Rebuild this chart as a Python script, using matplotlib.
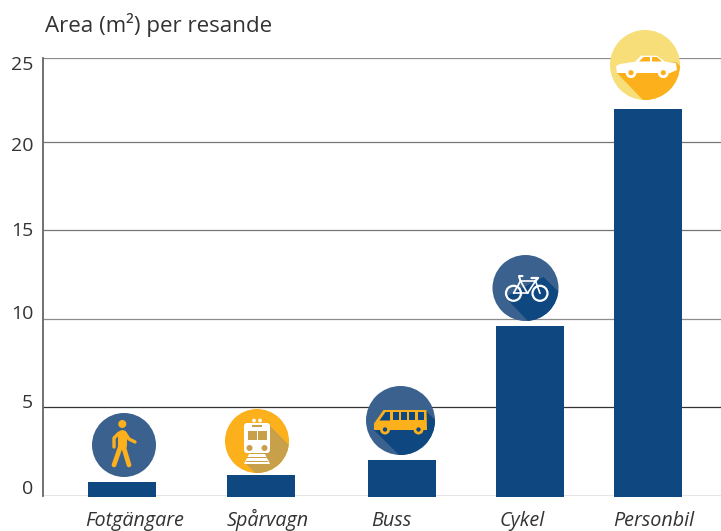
import matplotlib
matplotlib.use("Agg")
import matplotlib.pyplot as plt
from matplotlib.patches import Circle, Polygon, Rectangle, FancyBboxPatch
from matplotlib.transforms import ScaledTranslation

categories = ["Fotgängare", "Spårvagn", "Buss", "Cykel", "Personbil"]
values = [0.76, 1.16, 2.0, 9.6, 21.86]
bar_x = [122, 261, 402, 530, 648]
label_x = [134.5, 268, 391, 522, 654]
tick_values = [0, 5, 10, 15, 20, 24.75]
tick_labels = ["0", "5", "10", "15", "20", "25"]
tick_offsets = [6, 4, 5, -1, -4, -7]
line_colors = ["#333333", "#333333", "#8c8c8c", "#777777", "#777777", "#8c8c8c"]

BLUE = "#0F4780"
CIRC = "#3B628F"
ORANGE = "#FBB01C"
YELLOW = "#F7DE78"
WHITE = "#FFFFFF"
FONT = "Open Sans"

W, H = 721, 531
fig = plt.figure(figsize=(W / 100, H / 100), dpi=100)
base_y, top_y, left_x = 495.5, 58, 43
ax = fig.add_axes([left_x / W, 1 - base_y / H, 1 - left_x / W, (base_y - top_y) / H])
ax.set_xlim(left_x, W)
ax.set_ylim(0, 24.75)
for s in ["top", "right", "bottom"]:
    ax.spines[s].set_visible(False)
ax.spines["left"].set_color("#666666")
ax.spines["left"].set_linewidth(1.3)
ax.set_axisbelow(True)

ax.bar(bar_x, [v + 0.1 for v in values], bottom=-0.1, width=68, color=BLUE, zorder=3, clip_on=False)

ax.set_yticks(tick_values)
ax.set_yticklabels(tick_labels, fontsize=14, family=FONT, color="#333333")
ax.tick_params(axis="y", length=0, pad=7)
for lab, off in zip(ax.get_yticklabels(), tick_offsets):
    lab.set_transform(lab.get_transform() + ScaledTranslation(0, off / 100, fig.dpi_scale_trans))
    lab.set_va("center")
ax.yaxis.grid(True)
for gl, c in zip(ax.get_ygridlines(), line_colors):
    gl.set_color(c)
    gl.set_linewidth(0.9)

ax.set_xticks(label_x)
ax.set_xticklabels(categories, fontsize=14.2, family=FONT, style="italic", color="#333333", va="baseline")
ax.tick_params(axis="x", length=0, pad=22)

fig.text(45 / W, 1 - 32 / H, "Area (m²) per resande", fontsize=16.1, family=FONT, color="#333333", va="baseline")

# icon layer in pixel coordinates
ov = fig.add_axes([0, 0, 1, 1], facecolor="none", zorder=5)
ov.set_xlim(0, W)
ov.set_ylim(H, 0)
ov.axis("off")


def badge(cx, cy, r, color, shade, shadow):
    c = Circle((cx, cy), r, fc=color, ec="none")
    ov.add_patch(c)
    p = Polygon([(cx + a, cy + b) for a, b in shadow], fc=shade, ec="none")
    ov.add_patch(p)
    p.set_clip_path(c)


def line(cx, cy, pts, color, lw):
    ov.plot([cx + a for a, b in pts], [cy + b for a, b in pts], color=color, lw=lw,
            solid_capstyle="round", solid_joinstyle="round")


def rect(cx, cy, x0, y0, x1, y1, color, rad=0.0):
    if rad:
        ov.add_patch(FancyBboxPatch((cx + x0 + rad, cy + y0 + rad), x1 - x0 - 2 * rad, y1 - y0 - 2 * rad,
                                    boxstyle=f"round,pad={rad}", fc=color, ec="none"))
    else:
        ov.add_patch(Rectangle((cx + x0, cy + y0), x1 - x0, y1 - y0, fc=color, ec="none"))


def dot(cx, cy, x, y, r, fc, ec="none", lw=0):
    ov.add_patch(Circle((cx + x, cy + y), r, fc=fc, ec=ec, lw=lw))


# walker
cx, cy = 124, 445
ov.add_patch(Circle((cx, cy), 32, fc=CIRC, ec="none"))
dot(cx, cy, -1.7, -21, 4, ORANGE)
line(cx, cy, [(-2, -11), (-2, 0)], ORANGE, 6.5)
line(cx, cy, [(-3, 0), (-10, 20)], ORANGE, 3.4)
line(cx, cy, [(-1, 0), (5, 20)], ORANGE, 3.4)
line(cx, cy, [(1, -12), (5, -6), (11, -3)], ORANGE, 2.4)
line(cx, cy, [(-5, -12), (-10, -7), (-10, 2)], ORANGE, 2.4)

# tram
cx, cy = 257, 441
badge(cx, cy, 32, ORANGE, "#C9A04A", [(10, -18), (50, 22), (17, 50), (-12, 22)])
rect(cx, cy, -13, -18, 13, 12, WHITE, 3)
rect(cx, cy, -9.5, -10, -0.5, -1, "#C9A04A")
rect(cx, cy, 1, -10, 10, -1, "#C9A04A")
rect(cx, cy, -5, -16, 5, -14, "#C9A04A")
dot(cx, cy, -7.5, 7, 3, "#C9A04A")
dot(cx, cy, 7.5, 7, 3, "#C9A04A")
dot(cx, cy, -3, -20.5, 1.9, WHITE)
dot(cx, cy, 3, -20.5, 1.9, WHITE)
ov.add_patch(Polygon([(cx - 8, cy + 13), (cx + 8, cy + 13), (cx + 13, cy + 23), (cx - 13, cy + 23)], fc=WHITE, ec="none"))
rect(cx, cy, -10, 16, 10, 17, "#C9A04A")
rect(cx, cy, -11, 19.5, 11, 20.5, "#C9A04A")

# bus
cx, cy = 400.5, 420.5
badge(cx, cy, 34.5, CIRC, BLUE, [(25, -10), (60, 25), (25, 61), (-27, 9)])
ov.add_patch(Polygon([(cx - 26.5, cy + 3), (cx - 17, cy - 10.5), (cx + 26, cy - 10.5), (cx + 26.5, cy + 9.5),
                      (cx - 26.5, cy + 9.5)], fc=ORANGE, ec="none"))
ov.add_patch(Polygon([(cx - 21, cy + 0), (cx - 15, cy - 8.5), (cx - 10.5, cy - 8.5), (cx - 10.5, cy + 0)], fc=BLUE, ec="none"))
for x0 in [-8, 0.3, 8.6, 17]:
    rect(cx, cy, x0, -8.5, x0 + 6.2, -0.5, BLUE)
dot(cx, cy, -15.5, 9, 3.6, BLUE, ORANGE, 2)
dot(cx, cy, 18, 9, 3.6, BLUE, ORANGE, 2)

# bike
cx, cy = 525.5, 288
badge(cx, cy, 33, CIRC, BLUE, [(-20.5, 9), (18, -11), (60, 30), (28, 60)])
dot(cx, cy, -12, 5.3, 7.5, "none", WHITE, 1.6)
dot(cx, cy, 14.5, 5.3, 7.5, "none", WHITE, 1.6)
line(cx, cy, [(-12, 5.3), (-5, -7), (10, -7), (14.5, 5.3)], WHITE, 1.2)
line(cx, cy, [(-5, -7), (2, 5.3), (10, -7)], WHITE, 1.2)
line(cx, cy, [(-12, 5.3), (2, 5.3)], WHITE, 1.2)
line(cx, cy, [(-3, -12), (-6.5, -12), (-5, -7)], WHITE, 1.5)
line(cx, cy, [(6, -10), (12.5, -10), (10, -7)], WHITE, 1.6)

# car
cx, cy = 645, 65
badge(cx, cy, 35, YELLOW, ORANGE, [(-28, 8), (-10, -3), (31, -3), (60, 26), (22, 60)])
ov.add_patch(Polygon([(cx - 29, cy + 1), (cx - 25, cy - 1), (cx - 10, cy - 3.3), (cx - 4, cy - 9.3), (cx + 12, cy - 9.3),
                      (cx + 20, cy - 3.3), (cx + 31, cy - 2), (cx + 32, cy + 5), (cx + 25, cy + 8),
                      (cx - 28, cy + 8)], fc=WHITE, ec="none"))
ov.add_patch(Polygon([(cx - 6, cy - 3.5), (cx - 1.5, cy - 8), (cx + 5, cy - 8), (cx + 5, cy - 3.5)], fc=ORANGE, ec="none"))
ov.add_patch(Polygon([(cx + 7, cy - 8), (cx + 12, cy - 8), (cx + 17, cy - 3.5), (cx + 7, cy - 3.5)], fc=ORANGE, ec="none"))
dot(cx, cy, -14, 7.7, 4, ORANGE, WHITE, 2)
dot(cx, cy, 18.3, 7.7, 4, ORANGE, WHITE, 2)

fig.savefig("out.png", dpi=100)
